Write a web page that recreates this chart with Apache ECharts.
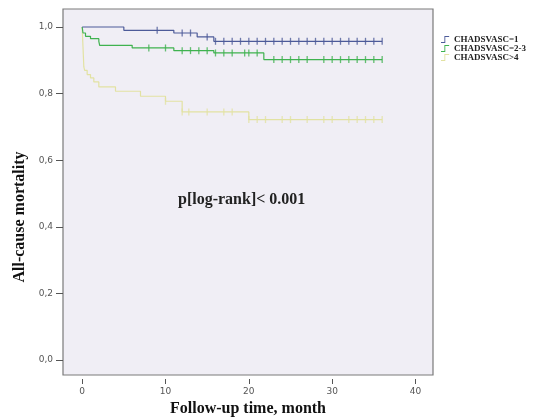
<!DOCTYPE html>
<html>
<head>
<meta charset="utf-8">
<script src="https://cdn.jsdelivr.net/npm/echarts@6/dist/echarts.min.js"></script>
<style>
  html, body { margin: 0; padding: 0; background: #fff; }
  #chart { width: 557px; height: 417px; }
</style>
</head>
<body>
<div id="chart"></div>
<script>
  // Kaplan-Meier steps: [month, survival from that month on]
  var groupNames = ['CHADSVASC=1', 'CHADSVASC=2-3', 'CHADSVASC>4'];
  var colors = ['#4d5b99', '#3fb24f', '#e2e2a2'];
  var endMonth = 36;

  var steps1 = [[0, 1.0], [5, 0.99], [11, 0.982], [13.8, 0.97], [15.8, 0.957]];
  var steps2 = [[0, 1.0], [0.1, 0.982], [0.4, 0.972], [1, 0.965], [2, 0.957], [2.1, 0.945],
                [6, 0.937], [11, 0.929], [15.8, 0.922], [21.8, 0.902]];
  var steps3 = [[0, 1.0], [0.05, 0.97], [0.1, 0.94], [0.15, 0.91], [0.2, 0.88], [0.3, 0.87],
                [0.6, 0.857], [1.0, 0.847], [1.4, 0.835], [2, 0.82], [4, 0.807], [7, 0.792],
                [10, 0.777], [12, 0.745], [20, 0.722]];

  // censored months
  var cens1 = [9, 12, 13, 15, 16, 17, 18, 19, 20, 21, 22, 23, 24, 25, 26, 27, 28, 29, 30,
               31, 32, 33, 34, 35, 36];
  var cens2 = [8, 10, 12, 13, 14, 15, 16, 17, 18, 19.5, 20, 21, 23, 24, 25, 26, 27, 29, 30,
               31, 32, 33, 34, 35, 36];
  var cens3 = [10, 12, 12.8, 15, 17, 18, 20, 21, 22, 24, 25, 27, 29, 30, 32, 33, 34, 35, 36];

  var xTicks = [0, 10, 20, 30, 40];
  var yTicks = [0, 0.2, 0.4, 0.6, 0.8, 1.0];

  var allSteps = [steps1, steps2, steps3];
  var allCens = [cens1, cens2, cens3];

  function survAt(steps, t) {
    var s = steps[0][1];
    for (var i = 0; i < steps.length; i++) {
      if (steps[i][0] <= t) s = steps[i][1];
    }
    return s;
  }

  var series = [];
  for (var g = 0; g < 3; g++) {
    var line = allSteps[g].slice();
    line.push([endMonth, allSteps[g][allSteps[g].length - 1][1]]);
    series.push({
      name: groupNames[g],
      type: 'line',
      step: 'end',
      data: line,
      showSymbol: false,
      lineStyle: { color: colors[g], width: 1.2 },
      itemStyle: { color: colors[g] },
      z: 3 - g
    });
  }
  for (var g = 0; g < 3; g++) {
    series.push({
      name: 'cens' + g,
      type: 'scatter',
      data: allCens[g].map(function (t) { return [t, survAt(allSteps[g], t)]; }),
      symbol: 'rect',
      symbolSize: [1.3, 7],
      itemStyle: { color: colors[g] },
      silent: true,
      z: 3 - g
    });
  }

  var chart = echarts.init(document.getElementById('chart'));
  chart.setOption({
    animation: false,
    backgroundColor: '#fff',
    grid: {
      left: 63, top: 9, right: 124, bottom: 42,
      outerBoundsMode: 'none',
      containLabel: false,
      show: true,
      backgroundColor: '#f0eef5',
      borderColor: '#7a7a7a',
      borderWidth: 1.2
    },
    legend: {
      orient: 'vertical',
      left: 436,
      top: 30,
      itemGap: 0,
      itemWidth: 12,
      itemHeight: 7,
      data: groupNames.map(function (n) {
        return { name: n, icon: 'path://M0,9L5,9L5,0L12,0L12,1.3L6.3,1.3L6.3,10.3L0,10.3Z' };
      }),
      textStyle: { fontFamily: 'Liberation Serif', fontWeight: 'bold', fontSize: 9, lineHeight: 8, color: '#222', padding: [0, 0, 0, -2] }
    },
    xAxis: {
      type: 'value',
      min: -2.3,
      max: 42.1,
      offset: 4,
      name: 'Follow-up time, month',
      nameLocation: 'middle',
      nameGap: 22,
      nameTextStyle: { fontFamily: 'Liberation Serif', fontWeight: 'bold', fontSize: 16, color: '#111' },
      axisLine: { show: false, onZero: false },
      axisTick: { show: true, length: 5, customValues: xTicks, lineStyle: { color: '#555' } },
      axisLabel: { customValues: xTicks, fontSize: 9, color: '#555', margin: 8, fontFamily: 'DejaVu Sans' },
      splitLine: { show: false }
    },
    yAxis: {
      type: 'value',
      min: -0.045,
      max: 1.054,
      name: 'All-cause mortality',
      nameLocation: 'middle',
      nameGap: 30,
      nameTextStyle: {
        fontFamily: 'Liberation Serif', fontWeight: 'bold', fontSize: 16, color: '#111',
        padding: [0, 50, 0, 0]
      },
      axisLine: { show: false, onZero: false },
      axisTick: { show: true, length: 7, customValues: yTicks, lineStyle: { color: '#555' } },
      axisLabel: {
        customValues: yTicks, fontSize: 9, color: '#555', margin: 10, fontFamily: 'DejaVu Sans',
        formatter: function (v) { return v.toFixed(1).replace('.', ','); }
      },
      splitLine: { show: false }
    },
    graphic: [{
      type: 'text',
      left: 178,
      top: 192,
      style: {
        text: 'p[log-rank]< 0.001',
        font: 'bold 16px "Liberation Serif"',
        fill: '#222'
      }
    }],
    series: series
  });
</script>
</body>
</html>
